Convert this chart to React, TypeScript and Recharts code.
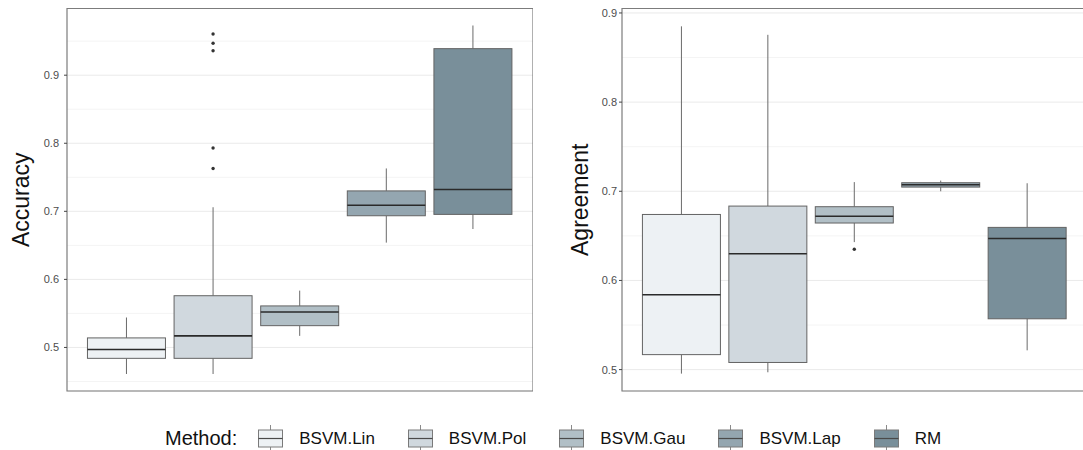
import React from 'react';
import { ComposedChart, Bar, XAxis, YAxis, CartesianGrid, ReferenceArea } from 'recharts';

const methods = ['BSVM.Lin', 'BSVM.Pol', 'BSVM.Gau', 'BSVM.Lap', 'RM'];
const fills = ['#edf1f4', '#d0d8de', '#b1bfc6', '#94a6b0', '#798f9a'];

// Accuracy (left panel)
const accMin = [0.461, 0.461, 0.517, 0.654, 0.674];
const accQ1 = [0.484, 0.484, 0.532, 0.6935, 0.6955];
const accMedian = [0.497, 0.517, 0.552, 0.709, 0.732];
const accQ3 = [0.514, 0.576, 0.561, 0.73, 0.939];
const accMax = [0.544, 0.706, 0.5835, 0.763, 0.973];
const accOutliers: number[][] = [[], [0.9605, 0.947, 0.936, 0.793, 0.763], [], [], []];

// Agreement (right panel)
const agrMin = [0.4955, 0.497, 0.643, 0.7, 0.5216];
const agrQ1 = [0.5168, 0.508, 0.6644, 0.7047, 0.557];
const agrMedian = [0.584, 0.63, 0.672, 0.7074, 0.647];
const agrQ3 = [0.674, 0.6834, 0.6827, 0.7096, 0.6595];
const agrMax = [0.885, 0.8755, 0.7103, 0.712, 0.709];
const agrOutliers: number[][] = [[], [], [0.635], [], []];

const accTicks = [0.5, 0.6, 0.7, 0.8, 0.9];
const accMinorTicks = [0.45, 0.55, 0.65, 0.75, 0.85, 0.95];
const accDomain = [0.436, 0.998];
const agrTicks = [0.5, 0.6, 0.7, 0.8, 0.9];
const agrMinorTicks = [0.55, 0.65, 0.75, 0.85];
const agrDomain = [0.476, 0.905];
const xDomain = [-0.69, 4.69];

const build = (mn: number[], q1: number[], md: number[], q3: number[], mx: number[], out: number[][]) =>
  methods.map((m, i) => ({
    method: m,
    idx: i,
    min: mn[i],
    q1: q1[i],
    median: md[i],
    q3: q3[i],
    max: mx[i],
    outliers: out[i],
    fill: fills[i],
    range: [mn[i], mx[i]],
  }));

const accData = build(accMin, accQ1, accMedian, accQ3, accMax, accOutliers);
const agrData = build(agrMin, agrQ1, agrMedian, agrQ3, agrMax, agrOutliers);

const FONT = '"Liberation Sans", Arial, Helvetica, sans-serif';
const BORDER = '#7c7c7c';

const BoxShape = (props: any) => {
  const { x, y, width, height, payload } = props;
  const { min, max, q1, median, q3, outliers, fill } = payload;
  const top = Math.min(y, y + height);
  const bot = Math.max(y, y + height);
  const k = (bot - top) / (max - min);
  const py = (v: number) => top + (max - v) * k;
  const cx = x + width / 2;
  return (
    <g>
      <line x1={cx} x2={cx} y1={py(max)} y2={py(q3)} stroke="#6a6a6a" strokeWidth={1} />
      <line x1={cx} x2={cx} y1={py(q1)} y2={py(min)} stroke="#6a6a6a" strokeWidth={1} />
      <rect x={x} y={py(q3)} width={width} height={py(q1) - py(q3)} fill={fill} stroke="#636363" strokeWidth={1} />
      <line x1={x} x2={x + width} y1={py(median)} y2={py(median)} stroke="#2a2a2a" strokeWidth={1.6} />
      {outliers.map((o: number, j: number) => (
        <circle key={j} cx={cx} cy={py(o)} r={1.7} fill="#333" />
      ))}
    </g>
  );
};

const Panel = (p: {
  data: any[];
  width: number;
  axisWidth: number;
  domain: number[];
  ticks: number[];
  minor: number[];
  title: string;
  titleX: number;
  tickMargin: number;
}) => (
  <ComposedChart
    width={p.width}
    height={400}
    data={p.data}
    margin={{ top: 8.5, right: 0, bottom: 9, left: 0 }}
  >
    <CartesianGrid vertical={false} horizontalValues={p.minor} stroke="#f4f4f4" strokeWidth={1} />
    <CartesianGrid vertical={false} stroke="#eaeaea" strokeWidth={1} />
    <XAxis dataKey="idx" type="number" domain={xDomain} allowDataOverflow hide />
    <YAxis
      type="number"
      domain={p.domain}
      ticks={p.ticks}
      allowDataOverflow
      width={p.axisWidth}
      tickSize={3}
      tickMargin={p.tickMargin}
      tickLine={{ stroke: '#444' }}
      axisLine={false}
      tick={{ fontSize: 11, fill: '#4d4d4d', fontFamily: FONT }}
      tickFormatter={(v: number) => v.toFixed(1)}
      label={{
        content: (lp: any) => {
          const vb = lp.viewBox || {};
          const cx = (vb.x || 0) + p.titleX;
          const cy = (vb.y || 0) + (vb.height || 0) / 2;
          return (
            <text
              x={cx}
              y={cy}
              transform={`rotate(-90 ${cx} ${cy})`}
              textAnchor="middle"
              dominantBaseline="central"
              fontSize={23}
              fontFamily={FONT}
              fill="#111"
            >
              {p.title}
            </text>
          );
        },
      }}
    />
    <ReferenceArea
      x1={xDomain[0]}
      x2={xDomain[1]}
      y1={p.domain[0]}
      y2={p.domain[1]}
      fill="none"
      fillOpacity={0}
      stroke={BORDER}
      strokeWidth={1.2}
      ifOverflow="visible"
    />
    <Bar dataKey="range" barSize={78} shape={<BoxShape />} isAnimationActive={false} />
  </ComposedChart>
);

const LegendKey = ({ fill }: { fill: string }) => (
  <svg width={25} height={27} style={{ display: 'block' }}>
    <line x1={12.5} x2={12.5} y1={0} y2={27} stroke="#8a8a8a" strokeWidth={1} />
    <rect x={0.5} y={5} width={24} height={17} fill={fill} stroke="#7a7a7a" strokeWidth={1} />
    <line x1={0.5} x2={24.5} y1={13.5} y2={13.5} stroke="#4a4a4a" strokeWidth={1.2} />
  </svg>
);

export default function App() {
  return (
    <div
      style={{
        position: 'absolute',
        left: 0,
        top: 0,
        width: 1083,
        height: 450,
        overflow: 'hidden',
        background: '#fff',
        fontFamily: FONT,
      }}
    >
      <div style={{ position: 'absolute', left: 0, top: 0 }}>
        <Panel
          data={accData}
          width={533}
          axisWidth={67}
          domain={accDomain}
          ticks={accTicks}
          minor={accMinorTicks}
          title="Accuracy"
          titleX={21}
          tickMargin={5}
        />
      </div>
      <div style={{ position: 'absolute', left: 540, top: 0 }}>
        <Panel
          data={agrData}
          width={547}
          axisWidth={82}
          domain={agrDomain}
          ticks={agrTicks}
          minor={agrMinorTicks}
          title="Agreement"
          titleX={40}
          tickMargin={2}
        />
      </div>
      <div
        style={{
          position: 'absolute',
          left: 165,
          top: 425,
          height: 27,
          display: 'flex',
          alignItems: 'center',
          color: '#111',
          whiteSpace: 'nowrap',
        }}
      >
        <span style={{ fontSize: 20, marginRight: 21 }}>Method:</span>
        {methods.map((m, i) => (
          <div key={m} style={{ display: 'flex', alignItems: 'center', marginRight: 33 }}>
            <LegendKey fill={fills[i]} />
            <span style={{ fontSize: 17, marginLeft: 16 }}>{m}</span>
          </div>
        ))}
      </div>
    </div>
  );
}
